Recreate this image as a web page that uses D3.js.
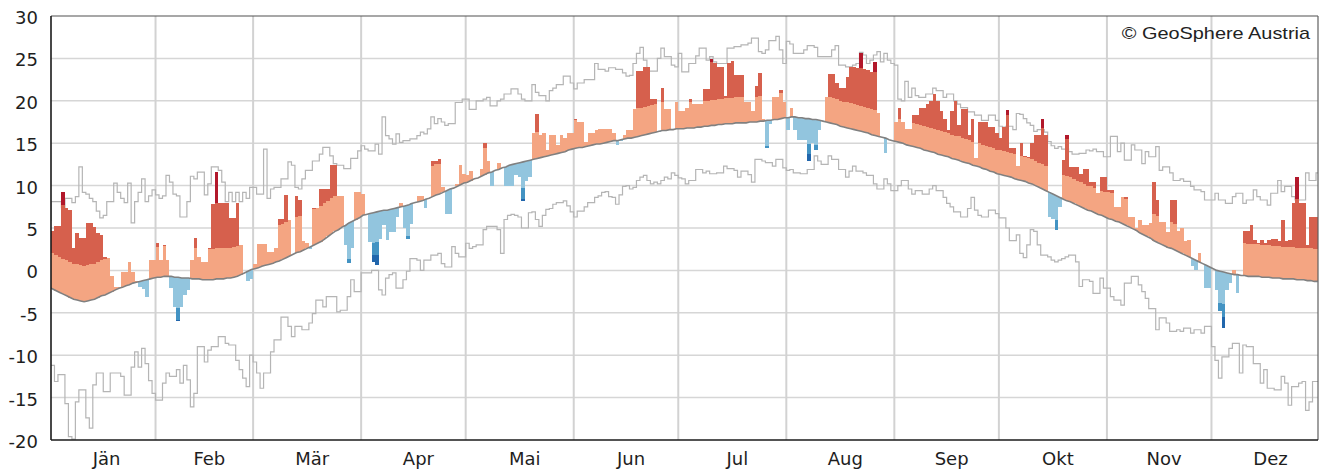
<!DOCTYPE html>
<html>
<head>
<meta charset="utf-8">
<script src="https://cdn.jsdelivr.net/npm/d3@7"></script>
<style>
  body { margin: 0; background: #fff; }
  svg { display: block; }
</style>
</head>
<body>
<svg id="chart" width="1326" height="473"></svg>
<script>
// Month labels and lengths (non-leap year)
const monthNames = ["Jän", "Feb", "Mär", "Apr", "Mai", "Jun", "Jul", "Aug", "Sep", "Okt", "Nov", "Dez"];
const monthDays = [31, 28, 31, 30, 31, 30, 31, 31, 30, 31, 30, 31];
const yTicks = [-20, -15, -10, -5, 0, 5, 10, 15, 20, 25, 30];

// Daily mean temperature of the year (°C), one row per month
const dailyTemp = [
  4.5, 4.6, 5.2, 5.2, 9.2, 7.3, 7.1, 2.6, 4.4, 3.8, 3.8, 5.6, 5.6, 5.1, 4.4, 4.2, 1.6, 1.5, -0.7, -2.0, -2.0, -0.2, -0.2, 1.0, -0.2, -1.2, -2.0, -2.2, -3.1, 1.2, 1.2,
  3.2, 1.2, 3.0, 1.2, -2.1, -4.3, -6.0, -4.3, -2.9, -2.3, 1.2, 3.8, 1.6, 1.0, 1.0, 2.6, 7.8, 11.6, 7.9, 7.9, 8.0, 6.2, 6.2, 7.9, 3.0, -0.3, -1.2, -1.0,
  0.8, 3.1, 3.1, 3.1, 2.2, 2.2, 2.7, 6.1, 6.1, 8.9, 6.0, 1.9, 8.8, 8.3, 3.5, 3.2, 2.5, 7.4, 7.4, 9.6, 9.6, 9.6, 12.4, 12.4, 8.8, 8.8, 3.0, 0.9, 2.6, 9.2, 9.2,
  9.0, 6.6, 3.3, 1.0, 0.6, 3.7, 5.3, 3.6, 4.5, 4.5, 6.3, 8.0, 5.0, 3.7, 5.5, 8.0, 8.8, 8.8, 7.3, 8.5, 12.9, 12.9, 13.1, 9.8, 6.7, 6.7, 9.7, 10.2, 12.4, 11.4,
  11.3, 11.7, 10.8, 10.9, 12.0, 15.0, 12.9, 10.0, 11.8, 12.7, 12.1, 10.0, 10.0, 10.0, 11.2, 11.0, 8.2, 10.6, 11.0, 16.2, 18.5, 16.0, 16.2, 14.2, 16.0, 16.0, 14.8, 16.0, 15.6, 16.2, 16.2,
  17.9, 17.5, 17.5, 15.2, 16.2, 16.2, 16.5, 16.7, 16.7, 16.7, 16.7, 16.2, 14.8, 15.3, 16.0, 16.5, 16.5, 19.0, 23.5, 23.5, 24.0, 24.0, 20.2, 20.2, 16.3, 21.5, 19.0, 19.0, 16.6, 19.8,
  18.8, 18.8, 19.2, 20.2, 19.6, 19.6, 19.6, 21.4, 21.4, 24.9, 24.4, 24.0, 24.0, 20.6, 24.5, 24.7, 23.1, 23.1, 23.1, 19.8, 19.8, 18.8, 21.7, 23.3, 17.9, 14.4, 17.3, 20.4, 20.4, 21.3, 19.8,
  16.6, 19.2, 16.5, 15.4, 15.4, 15.4, 12.9, 15.0, 14.2, 16.5, 17.6, 20.5, 23.2, 23.2, 22.1, 21.5, 21.5, 22.8, 24.0, 24.0, 23.9, 25.6, 23.7, 23.6, 23.4, 24.6, 18.6, 15.7, 13.8, 15.4, 15.3,
  17.5, 19.2, 17.5, 16.7, 16.7, 18.3, 18.3, 19.2, 19.2, 19.6, 20.0, 20.8, 20.0, 18.8, 17.9, 16.5, 18.8, 20.0, 17.1, 19.0, 19.0, 16.0, 17.9, 13.3, 17.5, 17.5, 17.5, 16.9, 16.9, 16.2,
  15.6, 16.9, 18.9, 14.4, 14.4, 12.3, 15.0, 13.5, 13.4, 15.0, 16.0, 16.0, 17.9, 16.0, 6.3, 6.1, 4.8, 7.5, 13.0, 16.0, 12.2, 12.2, 12.2, 11.4, 12.0, 12.0, 10.4, 10.4, 9.1, 11.0, 11.0,
  9.5, 9.5, 7.5, 7.5, 8.7, 8.7, 6.3, 6.3, 5.0, 5.9, 5.4, 5.4, 5.6, 10.4, 8.3, 5.7, 5.7, 4.5, 8.3, 8.3, 4.6, 5.0, 3.5, 3.6, 0.5, 0.0, 2.0, 0.8, -2.1, -2.1,
  0.2, -2.3, -4.8, -6.8, -2.3, -1.5, 0.0, -2.7, -0.6, 4.7, 4.7, 5.4, 3.6, 3.2, 3.6, 3.2, 3.6, 3.7, 3.7, 3.5, 5.9, 3.5, 3.6, 7.9, 11.0, 7.9, 7.9, 3.0, 6.3, 6.3, 6.3
];

// Long-term mean of the daily mean temperature (°C)
const climMean = [
  -2.0, -2.2, -2.4, -2.6, -2.8, -3.0, -3.2, -3.4, -3.5, -3.6, -3.7, -3.6, -3.5, -3.4, -3.2, -3.0, -2.9, -2.7, -2.5, -2.3, -2.1, -2.0, -1.8, -1.7, -1.5, -1.4, -1.3, -1.2, -1.1, -1.0, -0.9,
  -0.8, -0.8, -0.7, -0.7, -0.7, -0.8, -0.8, -0.9, -0.9, -0.9, -1.0, -1.0, -1.0, -1.1, -1.1, -1.1, -1.1, -1.0, -1.0, -1.0, -0.9, -0.9, -0.8, -0.7, -0.5, -0.3, -0.1, 0.1,
  0.2, 0.3, 0.5, 0.6, 0.7, 0.8, 1.0, 1.1, 1.3, 1.5, 1.7, 1.9, 2.1, 2.2, 2.4, 2.6, 2.8, 3.0, 3.2, 3.4, 3.7, 4.0, 4.3, 4.6, 4.8, 5.1, 5.3, 5.6, 5.8, 6.0, 6.2,
  6.5, 6.6, 6.7, 6.8, 6.9, 7.0, 7.1, 7.1, 7.2, 7.3, 7.4, 7.5, 7.6, 7.7, 7.9, 8.0, 8.1, 8.2, 8.4, 8.5, 8.7, 8.9, 9.0, 9.2, 9.4, 9.6, 9.7, 9.9, 10.1, 10.3,
  10.4, 10.6, 10.8, 10.9, 11.1, 11.3, 11.5, 11.6, 11.8, 11.9, 12.1, 12.2, 12.4, 12.5, 12.6, 12.7, 12.8, 12.9, 13.0, 13.1, 13.2, 13.3, 13.4, 13.5, 13.6, 13.7, 13.8, 13.9, 14.0, 14.2, 14.3,
  14.4, 14.5, 14.5, 14.6, 14.7, 14.8, 14.9, 14.9, 15.0, 15.1, 15.2, 15.3, 15.3, 15.4, 15.5, 15.6, 15.6, 15.7, 15.8, 15.9, 16.0, 16.1, 16.2, 16.3, 16.4, 16.5, 16.5, 16.6, 16.6, 16.7,
  16.7, 16.7, 16.8, 16.8, 16.8, 16.9, 16.9, 17.0, 17.0, 17.1, 17.1, 17.2, 17.2, 17.3, 17.3, 17.3, 17.4, 17.4, 17.4, 17.4, 17.5, 17.5, 17.5, 17.6, 17.6, 17.7, 17.7, 17.8, 17.8, 17.9, 18.0,
  18.0, 18.1, 18.1, 18.0, 18.0, 17.9, 17.9, 17.8, 17.8, 17.7, 17.6, 17.5, 17.4, 17.3, 17.2, 17.0, 16.9, 16.8, 16.7, 16.6, 16.5, 16.4, 16.3, 16.2, 16.0, 15.9, 15.8, 15.7, 15.6, 15.4, 15.3,
  15.2, 15.1, 15.0, 14.8, 14.7, 14.6, 14.5, 14.4, 14.2, 14.1, 14.0, 13.9, 13.7, 13.6, 13.5, 13.4, 13.2, 13.1, 13.0, 12.8, 12.7, 12.6, 12.4, 12.3, 12.2, 12.0, 11.9, 11.7, 11.6, 11.4,
  11.3, 11.2, 11.1, 11.0, 10.8, 10.7, 10.6, 10.5, 10.3, 10.2, 10.0, 9.8, 9.6, 9.4, 9.2, 9.0, 8.8, 8.6, 8.4, 8.2, 8.1, 7.9, 7.7, 7.5, 7.3, 7.1, 7.0, 6.8, 6.6, 6.5, 6.3,
  6.1, 6.0, 5.8, 5.7, 5.5, 5.3, 5.1, 4.9, 4.7, 4.4, 4.2, 4.0, 3.8, 3.5, 3.3, 3.1, 2.9, 2.7, 2.6, 2.4, 2.2, 2.0, 1.8, 1.6, 1.4, 1.2, 1.0, 0.8, 0.6, 0.4,
  0.2, 0.0, -0.1, -0.2, -0.3, -0.4, -0.5, -0.5, -0.6, -0.6, -0.7, -0.7, -0.7, -0.7, -0.8, -0.8, -0.8, -0.9, -0.9, -0.9, -1.0, -1.0, -1.0, -1.0, -1.1, -1.1, -1.1, -1.2, -1.2, -1.3, -1.3
];

// Highest daily mean on record for each calendar day (°C)
const recordMax = [
  5.9, 8.1, 8.1, 8.1, 7.4, 8.5, 8.5, 8.0, 8.7, 12.2, 9.2, 9.0, 8.5, 8.1, 7.0, 6.2, 6.5, 8.1, 8.1, 10.3, 9.2, 8.5, 8.0, 10.3, 5.6, 8.1, 9.2, 10.8, 8.1, 8.8, 9.5,
  8.9, 8.5, 8.8, 11.2, 10.4, 9.0, 8.8, 6.3, 6.3, 8.1, 11.1, 10.8, 11.6, 11.6, 8.9, 10.2, 12.2, 12.2, 11.8, 10.4, 8.1, 9.2, 8.1, 9.2, 8.1, 9.2, 8.5, 9.8,
  9.8, 9.0, 9.0, 14.3, 8.5, 9.6, 9.8, 9.8, 10.8, 10.8, 12.8, 12.4, 9.8, 9.6, 10.8, 11.8, 11.8, 12.9, 12.9, 13.7, 14.5, 14.5, 13.5, 12.6, 12.4, 12.4, 12.0, 12.0, 13.2, 13.2, 14.1,
  14.7, 14.3, 14.1, 14.1, 14.9, 13.7, 18.1, 15.9, 15.5, 14.9, 16.1, 15.1, 15.3, 15.3, 15.5, 15.5, 15.9, 16.3, 16.1, 16.7, 18.1, 17.3, 17.9, 17.5, 17.1, 17.3, 17.3, 19.8, 19.8, 20.2,
  20.2, 19.0, 19.0, 20.0, 20.0, 20.2, 20.4, 19.4, 19.4, 20.0, 20.2, 20.8, 20.8, 21.4, 21.4, 20.8, 20.2, 20.0, 20.0, 21.9, 21.0, 20.6, 20.6, 20.0, 21.2, 21.5, 21.9, 21.9, 22.9, 22.9, 22.1,
  21.4, 22.1, 22.1, 22.5, 22.5, 22.5, 24.4, 23.7, 23.7, 23.5, 23.9, 23.9, 23.7, 23.7, 23.3, 22.9, 23.0, 24.4, 25.6, 26.3, 24.8, 23.5, 23.5, 23.5, 25.0, 26.2, 25.2, 25.2, 24.2, 24.0,
  25.6, 23.4, 23.4, 24.4, 24.4, 25.3, 26.2, 26.2, 24.8, 25.2, 24.6, 24.4, 24.4, 24.4, 26.2, 26.2, 26.4, 26.4, 26.6, 26.6, 26.8, 27.4, 27.4, 25.8, 25.6, 26.0, 27.1, 27.1, 27.6, 26.0, 24.4,
  27.0, 26.7, 25.6, 25.6, 25.6, 26.0, 26.5, 26.5, 26.3, 25.2, 25.2, 25.2, 25.2, 26.0, 26.5, 24.2, 24.2, 24.0, 24.0, 24.2, 24.4, 25.7, 25.4, 24.4, 24.8, 25.4, 25.8, 24.6, 25.6, 24.8, 24.4,
  24.2, 20.2, 20.0, 22.3, 20.4, 21.5, 20.6, 20.4, 20.4, 20.8, 20.8, 21.5, 21.2, 21.2, 20.4, 20.8, 20.8, 20.0, 19.6, 19.2, 19.2, 18.7, 18.7, 18.3, 18.3, 17.7, 17.7, 18.3, 18.3, 17.7,
  17.0, 16.9, 17.0, 17.0, 16.6, 18.5, 18.4, 17.9, 17.4, 17.1, 16.4, 16.6, 16.6, 16.3, 15.2, 14.7, 14.4, 14.6, 14.3, 14.3, 14.0, 13.7, 13.7, 13.8, 13.8, 14.2, 14.1, 14.3, 14.0, 14.0, 13.4,
  13.4, 15.8, 15.8, 14.0, 15.0, 13.0, 13.0, 14.8, 14.2, 14.2, 12.6, 14.0, 13.4, 13.4, 14.6, 11.8, 12.2, 12.2, 11.5, 10.6, 10.6, 10.8, 10.5, 10.5, 9.9, 9.5, 9.5, 9.3, 8.3, 8.3,
  8.3, 9.1, 8.3, 8.3, 7.9, 7.9, 8.7, 9.1, 9.1, 7.9, 8.3, 8.3, 9.5, 8.7, 8.3, 8.3, 7.7, 9.1, 9.1, 10.6, 9.3, 9.9, 9.9, 8.7, 8.3, 8.3, 8.3, 11.5, 10.6, 10.6, 11.5
];

// Lowest daily mean on record for each calendar day (°C)
const recordMin = [
  -11.2, -11.2, -13.1, -12.3, -12.3, -15.7, -19.6, -19.9, -15.5, -14.1, -14.1, -17.4, -18.6, -13.5, -12.1, -12.1, -14.3, -14.3, -12.1, -12.1, -12.1, -12.5, -14.7, -14.7, -11.4, -9.6, -11.4, -9.2, -11.0, -13.0, -14.5,
  -15.3, -15.3, -13.3, -12.1, -12.5, -12.5, -11.7, -13.3, -11.2, -12.9, -16.1, -14.5, -9.0, -9.0, -10.8, -9.4, -9.0, -9.0, -7.8, -7.8, -8.6, -8.8, -8.8, -10.6, -11.7, -12.7, -13.7, -10.0,
  -10.8, -12.1, -13.9, -12.1, -12.1, -9.6, -8.2, -8.2, -5.5, -5.5, -6.6, -7.8, -6.6, -6.6, -7.0, -7.0, -6.2, -5.1, -3.5, -3.5, -4.3, -3.1, -3.1, -3.1, -4.9, -4.7, -4.7, -3.1, -1.1, -2.5, -2.5,
  -0.3, -0.3, -0.3, 0.0, 0.0, -2.3, -2.9, -0.9, -0.5, -0.3, -2.1, -2.1, -1.1, -0.1, 1.4, 1.4, 1.2, 0.0, 1.2, 1.2, 1.8, 1.8, 2.0, 0.8, 0.4, 0.4, 2.8, 2.0, 1.6, 1.6,
  3.2, 2.6, 2.8, 3.0, 3.0, 4.8, 5.2, 5.2, 5.2, 4.8, 2.0, 6.0, 6.5, 6.6, 6.5, 6.3, 5.0, 5.0, 6.8, 6.9, 6.0, 5.2, 6.5, 7.2, 7.3, 7.8, 8.0, 8.0, 8.2, 7.6, 6.9,
  6.3, 7.0, 7.0, 7.5, 8.0, 8.0, 8.6, 8.8, 9.2, 9.3, 8.7, 8.6, 7.8, 8.9, 9.9, 10.0, 9.6, 9.8, 10.6, 11.0, 11.2, 10.6, 10.2, 10.4, 10.2, 10.6, 11.0, 10.8, 11.5, 11.2,
  10.9, 10.8, 10.2, 10.6, 10.6, 11.9, 11.9, 11.5, 11.7, 11.4, 11.4, 11.5, 11.5, 12.3, 12.0, 12.0, 11.8, 11.0, 11.7, 11.7, 11.3, 10.4, 13.1, 13.1, 12.9, 12.7, 12.7, 12.3, 13.1, 13.1, 12.1,
  11.8, 11.9, 11.5, 11.5, 11.4, 11.4, 11.9, 11.9, 13.5, 12.9, 12.5, 12.5, 13.5, 13.1, 13.1, 11.9, 11.9, 11.0, 11.7, 12.3, 11.7, 11.7, 11.5, 11.2, 11.2, 10.2, 9.6, 9.6, 10.8, 10.2, 9.4,
  9.4, 10.0, 10.6, 10.6, 9.6, 9.0, 9.4, 9.4, 9.0, 9.0, 9.6, 10.0, 9.4, 9.4, 8.6, 7.9, 7.5, 6.9, 6.9, 6.3, 6.3, 7.3, 8.6, 7.1, 6.5, 6.3, 6.3, 7.1, 7.1, 6.7,
  6.2, 6.2, 5.0, 3.5, 3.5, 4.2, 2.0, 1.5, 3.0, 4.8, 4.6, 3.0, 1.8, 1.8, 1.6, 1.2, 1.0, 1.2, 1.4, 1.6, 1.8, 1.8, 1.0, -1.9, -1.1, -1.1, -1.3, -2.7, -2.7, -0.9, -2.1,
  -2.1, -3.1, -3.5, -3.5, -4.1, -1.5, -1.5, -0.7, -0.7, -1.7, -2.5, -3.3, -4.5, -4.5, -7.0, -5.6, -5.6, -6.2, -7.2, -7.2, -7.0, -7.2, -6.8, -6.8, -7.4, -7.0, -7.0, -7.4, -6.6, -6.6,
  -9.0, -10.6, -12.7, -10.2, -10.2, -9.2, -8.6, -8.6, -12.1, -8.8, -9.0, -9.0, -11.0, -11.0, -13.3, -11.7, -13.9, -13.9, -14.1, -14.1, -12.5, -13.3, -15.9, -13.7, -13.7, -13.3, -13.1, -16.5, -15.5, -13.1, -13.1
];

// Width of the first deviation band for each month (°C)
const bandWidth = [4.2, 3.6, 4.2, 3.6, 3.1, 3.3, 3.0, 3.0, 2.8, 2.9, 3.1, 3.8];

// Deviation classes: warm side uses 1x and 2.5x the band, cold side 1x and 1.4x
const warmSteps = [1, 2.5];
const coldSteps = [1, 1.4];
const warmColors = ["#f4a582", "#d6604d", "#b2182b"];
const coldColors = ["#92c5de", "#4393c3", "#2166ac"];

const svg = d3.select("#chart");
const plot = { left: 51, right: 1318, top: 16, bottom: 440 };

const x = d3.scaleLinear().domain([0, 365]).range([47.5, 1319.5]);
const y = d3.scaleLinear().domain([-20, 30]).range([plot.bottom, plot.top]);

const monthStart = d3.cumsum([0].concat(monthDays.slice(0, 11)));
const monthOfDay = [];
monthDays.forEach((n, m) => { for (let k = 0; k < n; k++) monthOfDay.push(m); });

svg.append("defs").append("clipPath").attr("id", "plotClip")
  .append("rect")
  .attr("x", plot.left).attr("y", plot.top)
  .attr("width", plot.right - plot.left).attr("height", plot.bottom - plot.top);

// Grid
const grid = svg.append("g");
grid.selectAll("line.h").data(yTicks.filter(v => v > -20 && v < 30)).join("line")
  .attr("x1", plot.left).attr("x2", plot.right)
  .attr("y1", d => y(d)).attr("y2", d => y(d))
  .attr("stroke", "#d6d6d6").attr("stroke-width", 1.5);
grid.selectAll("line.v").data(monthStart.slice(1)).join("line")
  .attr("x1", d => x(d)).attr("x2", d => x(d))
  .attr("y1", plot.top).attr("y2", plot.bottom)
  .attr("stroke", "#d2d2d2").attr("stroke-width", 2);

const body = svg.append("g").attr("clip-path", "url(#plotClip)");

// Step line through daily values (records)
const stepLine = d3.line()
  .x(d => x(d[0])).y(d => y(d[1]))
  .curve(d3.curveStepAfter);
const toSteps = arr => arr.map((v, i) => [i, v]).concat([[arr.length, arr[arr.length - 1]]]);

body.append("path").datum(toSteps(recordMax))
  .attr("d", stepLine).attr("fill", "none")
  .attr("stroke", "#b5b5b5").attr("stroke-width", 1.2);
body.append("path").datum(toSteps(recordMin))
  .attr("d", stepLine).attr("fill", "none")
  .attr("stroke", "#b5b5b5").attr("stroke-width", 1.2);

// Deviation bars, split into classes
const segments = [];
dailyTemp.forEach((t, i) => {
  const c = climMean[i];
  const s = bandWidth[monthOfDay[i]];
  if (t > c) {
    const lv = [c, c + warmSteps[0] * s, c + warmSteps[1] * s, Infinity];
    for (let k = 0; k < 3; k++) {
      const top = Math.min(t, lv[k + 1]);
      if (top > lv[k]) segments.push({ day: i, lo: lv[k], hi: top, color: warmColors[k] });
    }
  } else if (t < c) {
    const lv = [c, c - coldSteps[0] * s, c - coldSteps[1] * s, -Infinity];
    for (let k = 0; k < 3; k++) {
      const bot = Math.max(t, lv[k + 1]);
      if (bot < lv[k]) segments.push({ day: i, lo: bot, hi: lv[k], color: coldColors[k] });
    }
  }
});

body.append("g")
  .attr("shape-rendering", "crispEdges")
  .selectAll("rect").data(segments).join("rect")
  .attr("x", d => x(d.day))
  .attr("width", d => x(d.day + 1) - x(d.day))
  .attr("y", d => y(d.hi))
  .attr("height", d => Math.max(0, y(d.lo) - y(d.hi)))
  .attr("fill", d => d.color);

// Long-term mean, through the middle of each day
const meanLine = d3.line()
  .x((d, i) => x(i + 0.5)).y(d => y(d));
body.append("path").datum(climMean)
  .attr("d", meanLine).attr("fill", "none")
  .attr("stroke", "#808080").attr("stroke-width", 1.6);

// Frame
svg.append("line").attr("x1", plot.left).attr("x2", plot.right)
  .attr("y1", plot.top).attr("y2", plot.top)
  .attr("stroke", "#505050").attr("stroke-width", 1.2);
svg.append("line").attr("x1", plot.right).attr("x2", plot.right)
  .attr("y1", plot.top).attr("y2", plot.bottom)
  .attr("stroke", "#606060").attr("stroke-width", 1.2);
svg.append("line").attr("x1", plot.left).attr("x2", plot.left)
  .attr("y1", plot.top).attr("y2", plot.bottom)
  .attr("stroke", "#1a1a1a").attr("stroke-width", 1.6);
svg.append("line").attr("x1", plot.left).attr("x2", plot.right)
  .attr("y1", plot.bottom).attr("y2", plot.bottom)
  .attr("stroke", "#1a1a1a").attr("stroke-width", 1.6);

// Y axis labels
svg.append("g").selectAll("text").data(yTicks).join("text")
  .attr("x", 38).attr("y", d => y(d) + 8)
  .attr("text-anchor", "end")
  .attr("font-family", "DejaVu Sans, sans-serif")
  .attr("font-size", 18)
  .attr("fill", "#1e1e1e")
  .text(d => String(d));

// Month labels
svg.append("g").selectAll("text").data(monthNames).join("text")
  .attr("x", (d, m) => x(monthStart[m] + monthDays[m] / 2) + 5)
  .attr("y", 465)
  .attr("text-anchor", "middle")
  .attr("font-family", "DejaVu Sans, sans-serif")
  .attr("font-size", 18)
  .attr("fill", "#1e1e1e")
  .text(d => d);

// Copyright
svg.append("text")
  .attr("transform", "translate(1310,38.5) scale(1.17,1)")
  .attr("text-anchor", "end")
  .attr("font-family", "Liberation Sans, Arial, sans-serif")
  .attr("font-size", 17)
  .attr("fill", "#222")
  .text("© GeoSphere Austria");
</script>
</body>
</html>
